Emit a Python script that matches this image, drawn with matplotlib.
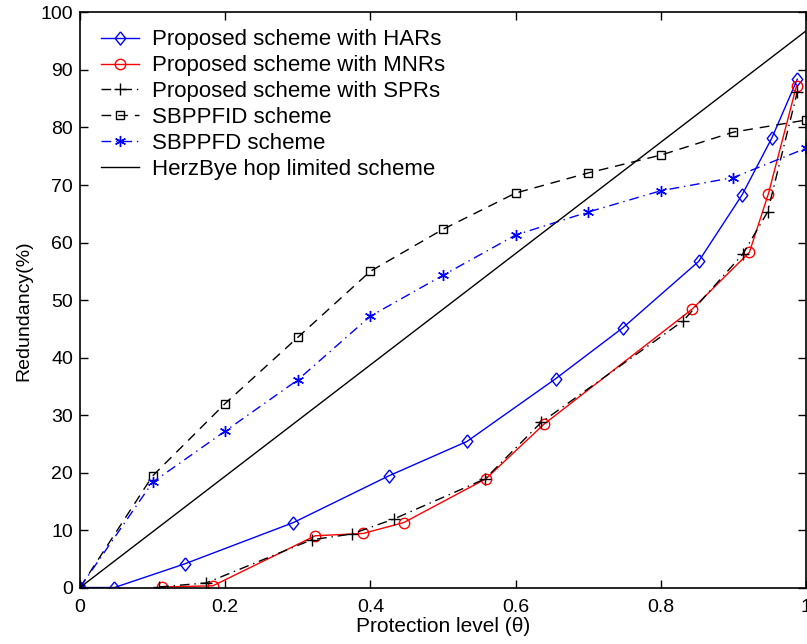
import matplotlib
matplotlib.use('Agg')
from matplotlib import pyplot as plt

plt.rcParams['font.family'] = ['Liberation Sans', 'DejaVu Sans']

# ── Data ──────────────────────────────────────────────────────────────────────
har_x = [0, 0.0475, 0.144, 0.294, 0.425, 0.533, 0.655, 0.748, 0.852, 0.912, 0.953, 0.988]
har_y = [0, 0.0, 4.1, 11.3, 19.4, 25.4, 36.3, 45.2, 56.7, 68.3, 78.2, 88.4]

mnr_x = [0.113, 0.183, 0.324, 0.390, 0.446, 0.559, 0.639, 0.843, 0.922, 0.948, 0.987]
mnr_y = [0.1, 0.3, 9.0, 9.4, 11.3, 18.9, 28.4, 48.4, 58.3, 68.4, 87.3]

spr_x = [0.109, 0.174, 0.319, 0.374, 0.432, 0.558, 0.635, 0.831, 0.913, 0.947, 0.988]
spr_y = [0.1, 0.8, 8.3, 9.3, 11.9, 18.9, 28.7, 46.4, 58.0, 65.3, 86.2]

theta = [0, 0.1, 0.2, 0.3, 0.4, 0.5, 0.6, 0.7, 0.8, 0.9, 1.0]
sbppfid_y = [0, 19.4, 32.0, 43.5, 55.0, 62.3, 68.6, 72.1, 75.2, 79.2, 81.3]
sbppfd_y = [0, 18.3, 27.2, 36.1, 47.2, 54.3, 61.3, 65.3, 69.0, 71.3, 76.4]

herz_x = [0, 1]
herz_y = [0, 96.8]

# matlab-style diamond (a bit taller than wide)
diamond = [(0, 1), (0.8, 0), (0, -1), (-0.8, 0), (0, 1)]
dashdot = (0, (7, 3.5, 1, 3.5))

fig = plt.figure(figsize=(8.07, 6.44), dpi=100)
ax = fig.add_axes([0.0991, 0.0877, 0.8997, 0.8929])

ax.plot(har_x, har_y, color='blue', lw=1.0, marker=diamond, ms=9.5, mfc='none',
        mec='blue', mew=1.0, label='Proposed scheme with HARs')
ax.plot(mnr_x, mnr_y, color='red', lw=1.0, marker='o', ms=7.5, mfc='none',
        mec='red', mew=1.0, label='Proposed scheme with MNRs')
ax.plot(spr_x, spr_y, color='black', lw=1.0, ls=dashdot, marker='+',
        ms=8, mew=1.0, label='Proposed scheme with SPRs')
ax.plot(theta, sbppfid_y, color='black', lw=1.0, ls=(0, (7, 5)), marker='s',
        ms=6, mfc='none', mew=1.0, label='SBPPFID scheme')
ax.plot(theta, sbppfd_y, color='blue', lw=1.0, ls=dashdot, marker=(6, 2, 0),
        ms=8, mew=1.0, label='SBPPFD scheme')
ax.plot(herz_x, herz_y, color='black', lw=1.0, label='HerzBye hop limited scheme')

ax.set_xlim(0, 1)
ax.set_ylim(0, 100)
ax.set_xticks([0, 0.2, 0.4, 0.6, 0.8, 1])
ax.set_xticklabels(['0', '0.2', '0.4', '0.6', '0.8', '1'])
ax.set_yticks(range(0, 101, 10))
ax.tick_params(direction='in', top=True, right=True, length=6, width=1,
               labelsize=14)
ax.tick_params(axis='x', pad=8)
ax.tick_params(axis='y', pad=5)
for s in ax.spines.values():
    s.set_linewidth(1.2)

ax.set_xlabel('Protection level (θ)', fontsize=15)
ax.set_ylabel('Redundancy(%)', fontsize=14)
ax.xaxis.set_label_coords(0.5, -0.051)
ax.yaxis.set_label_coords(-0.066, 0.481)

ax.legend(loc='upper left', bbox_to_anchor=(0.017, 0.986), frameon=False,
          fontsize=16, handlelength=1.72, labelspacing=0.22, borderaxespad=0,
          borderpad=0.4, handletextpad=0.58)

plt.savefig('out.png', dpi=100)
